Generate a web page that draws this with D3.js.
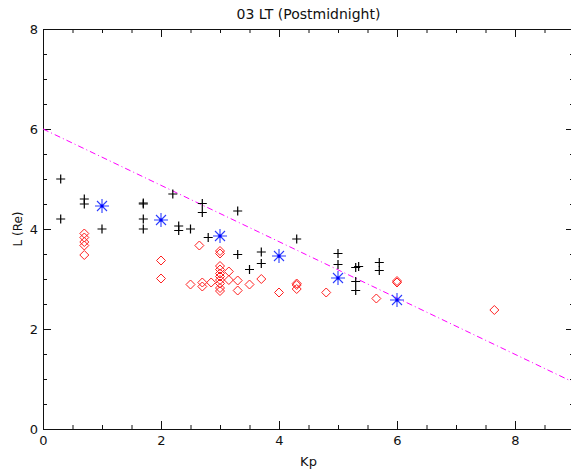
<!DOCTYPE html>
<meta charset="utf-8" />
<style>
  body {
    margin: 0;
    background: white;
  }
  text {
    font-family: "DejaVu Sans", sans-serif;
    fill: #111;
  }
</style>
<body>
  <svg id="chart" width="571" height="469"></svg>
</body>
<script src="https://d3js.org/d3.v7.min.js"></script>
<script>
  // plasmapause crossings (black plus)
  const plusKp = [0.3, 0.3, 0.7, 0.7, 1.0, 1.7, 1.7, 1.7, 1.7, 2.2, 2.3, 2.3, 2.5, 2.7, 2.7, 2.8,
    3.3, 3.3, 3.5, 3.7, 3.7, 4.3, 5.0, 5.0, 5.3, 5.35, 5.3, 5.3, 5.7, 5.7];
  const plusL = [5.0, 4.2, 4.6, 4.5, 4.0, 4.52, 4.5, 4.2, 4.0, 4.7, 4.06, 3.97, 4.0, 4.51, 4.33, 3.83,
    4.36, 3.49, 3.19, 3.54, 3.31, 3.8, 3.51, 3.29, 3.23, 3.25, 2.95, 2.77, 3.33, 3.17];

  // red diamonds
  const diamondKp = [0.7, 0.7, 0.7, 0.7, 0.7, 2.0, 2.0, 2.5, 2.65, 2.7, 2.7, 2.85,
    3.0, 3.0, 3.0, 3.0, 3.0, 3.0, 3.0, 3.0, 3.0, 3.0, 3.15, 3.15, 3.3, 3.3, 3.5, 3.7, 4.0,
    4.3, 4.3, 4.3, 4.8, 5.65, 6.0, 6.0, 7.65];
  const diamondL = [3.91, 3.83, 3.74, 3.67, 3.48, 3.37, 3.01, 2.89, 3.67, 2.93, 2.85, 2.93,
    3.56, 3.51, 3.26, 3.19, 3.11, 3.05, 2.98, 2.91, 2.82, 2.76, 3.15, 2.98, 2.97, 2.77, 2.89, 3.0, 2.73,
    2.91, 2.88, 2.8, 2.73, 2.61, 2.96, 2.93, 2.38];

  // binned means (blue asterisk)
  const meanKp = [1, 2, 3, 4, 5, 6];
  const meanL = [4.46, 4.18, 3.86, 3.46, 3.02, 2.58];

  // fitted line end points
  const fitKp = [0, 9];
  const fitL = [6.0, 0.93];

  const xMajor = [0, 2, 4, 6, 8];
  const yMajor = [0, 2, 4, 6, 8];

  const svg = d3.select("#chart");

  // plot box
  const box = { left: 43, right: 574, top: 29, bottom: 429 };

  const x = d3.scaleLinear().domain([0, 9]).range([box.left, box.right]);
  const y = d3.scaleLinear().domain([0, 8]).range([box.bottom, box.top]);

  const xMinor = d3.range(0, 9.01, 0.5).filter((v) => v % 2 !== 0);
  const yMinor = d3.range(0, 8.01, 0.5).filter((v) => v % 2 !== 0);

  // draw one side of the frame: major + minor ticks pointing inward
  function side(axisFn, scale, major, minor, transform, labels) {
    const g = svg.append("g").attr("transform", transform);
    g.call(
      axisFn(scale)
        .tickValues(major)
        .tickSizeInner(-8)
        .tickSizeOuter(0)
        .tickPadding(labels ? 7 : 0)
        .tickFormat(labels ? d3.format("d") : "")
    );
    g.append("g").call(
      axisFn(scale).tickValues(minor).tickSizeInner(-4).tickSizeOuter(0).tickFormat("")
    );
    g.selectAll("path.domain").attr("stroke", "#111");
    g.selectAll("line").attr("stroke", "#111");
    g.selectAll("text").style("font-size", "13px").attr("fill", "#111");
    return g;
  }

  side(d3.axisBottom, x, xMajor, xMinor, `translate(0,${box.bottom})`, true);
  side(d3.axisTop, x, xMajor, xMinor, `translate(0,${box.top})`, false);
  side(d3.axisLeft, y, yMajor, yMinor, `translate(${box.left},0)`, true)
    .selectAll("text")
    .attr("x", -5);
  side(d3.axisRight, y, yMajor, yMinor, `translate(${box.right},0)`, false);

  // fitted line, magenta dash-dot
  svg
    .append("path")
    .datum(d3.zip(fitKp, fitL))
    .attr("fill", "none")
    .attr("stroke", "#ff00ff")
    .attr("stroke-width", 1)
    .attr("stroke-dasharray", "6,3,1,3")
    .attr("d", d3.line().x((d) => x(d[0])).y((d) => y(d[1])));

  // black plus symbols
  svg
    .append("g")
    .selectAll("path")
    .data(d3.zip(plusKp, plusL))
    .join("path")
    .attr("transform", (d) => `translate(${x(d[0])},${y(d[1])})`)
    .attr("d", "M-4.5,0H4.5M0,-4.5V4.5")
    .attr("stroke", "#000")
    .attr("stroke-width", 1.2)
    .attr("fill", "none");

  // red diamonds
  svg
    .append("g")
    .selectAll("path")
    .data(d3.zip(diamondKp, diamondL))
    .join("path")
    .attr("transform", (d) => `translate(${x(d[0])},${y(d[1])})`)
    .attr("d", "M0,-4.5L4.5,0L0,4.5L-4.5,0Z")
    .attr("stroke", "#ff2020")
    .attr("stroke-width", 1)
    .attr("fill", "none");

  // blue asterisks
  const star = svg
    .append("g")
    .selectAll("g")
    .data(d3.zip(meanKp, meanL))
    .join("g")
    .attr("transform", (d) => `translate(${x(d[0])},${y(d[1])})`);
  star
    .append("path")
    .attr("d", "M-7,0H7M0,-7V7M-5,-5L5,5M-5,5L5,-5")
    .attr("stroke", "#2b3cff")
    .attr("stroke-width", 1.1)
    .attr("fill", "none");
  star.append("circle").attr("r", 1.6).attr("fill", "#0000ff");

  // title and axis labels
  svg
    .append("text")
    .attr("x", (box.left + box.right) / 2)
    .attr("y", 19)
    .attr("text-anchor", "middle")
    .style("font-size", "14px")
    .text("03 LT (Postmidnight)");

  svg
    .append("text")
    .attr("x", (box.left + box.right) / 2)
    .attr("y", 466)
    .attr("text-anchor", "middle")
    .style("font-size", "13px")
    .text("Kp");

  svg
    .append("text")
    .attr("transform", `translate(22,${(box.top + box.bottom) / 2}) rotate(-90)`)
    .attr("text-anchor", "middle")
    .style("font-size", "12px")
    .text("L (Re)");
</script>
